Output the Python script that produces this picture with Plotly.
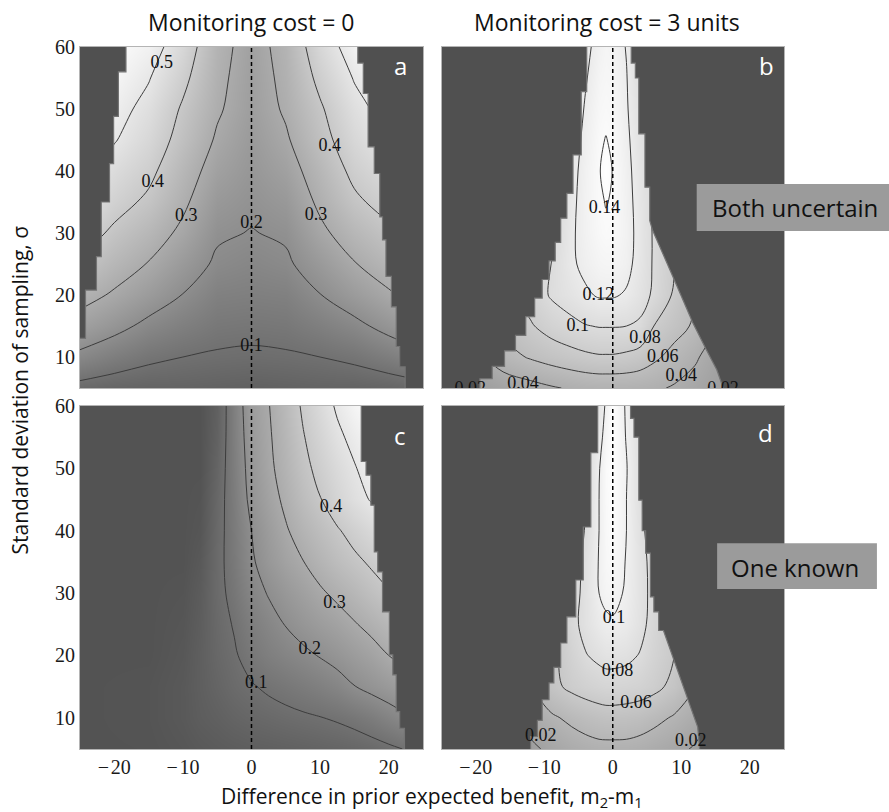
import plotly.graph_objects as go

# ---------------- data ----------------
SIGMA = [5, 10, 15, 20, 25, 30, 35, 40, 45, 50, 55, 60]

# panel a : both uncertain, monitoring cost 0
X_A = [-25, -20, -15, -10, -5, 0, 5, 10, 15, 20, 25]
Z_A = [
    [0.075, 0.06, 0.055, 0.055, 0.05, 0.045, 0.05, 0.055, 0.055, 0.06, 0.075],
    [0.18, 0.145, 0.115, 0.1, 0.092, 0.088, 0.092, 0.1, 0.115, 0.145, 0.18],
    [0.265, 0.225, 0.18, 0.15, 0.125, 0.12, 0.125, 0.15, 0.18, 0.225, 0.265],
    [0.33, 0.29, 0.245, 0.198, 0.155, 0.15, 0.155, 0.198, 0.245, 0.29, 0.33],
    [0.39, 0.34, 0.296, 0.24, 0.188, 0.175, 0.188, 0.24, 0.296, 0.34, 0.39],
    [0.44, 0.385, 0.34, 0.283, 0.21, 0.197, 0.21, 0.283, 0.34, 0.385, 0.44],
    [0.49, 0.43, 0.385, 0.315, 0.237, 0.215, 0.237, 0.315, 0.385, 0.43, 0.49],
    [0.53, 0.465, 0.42, 0.34, 0.265, 0.23, 0.265, 0.34, 0.42, 0.465, 0.53],
    [0.56, 0.505, 0.45, 0.37, 0.29, 0.243, 0.29, 0.37, 0.45, 0.505, 0.56],
    [0.59, 0.53, 0.475, 0.39, 0.31, 0.255, 0.31, 0.39, 0.475, 0.53, 0.59],
    [0.61, 0.555, 0.505, 0.42, 0.32, 0.26, 0.32, 0.42, 0.505, 0.555, 0.61],
    [0.63, 0.575, 0.54, 0.45, 0.33, 0.265, 0.33, 0.45, 0.54, 0.575, 0.63],
]

# panel b : both uncertain, monitoring cost 3
X_N = [-25, -20, -16, -12, -9, -6, -4, -2, -1, 0, 2, 4, 6, 9, 12, 16, 20, 25]
Z_B = [
    [0.01, 0.019, 0.027, 0.033, 0.038, 0.042, 0.044, 0.045, 0.045, 0.045, 0.045, 0.044, 0.043, 0.038, 0.032, 0.02, 0.01, 0.0],
    [0.012, 0.033, 0.052, 0.062, 0.068, 0.073, 0.076, 0.078, 0.078, 0.078, 0.076, 0.072, 0.064, 0.053, 0.043, 0.025, 0.01, 0.0],
    [0.015, 0.045, 0.065, 0.078, 0.088, 0.095, 0.099, 0.101, 0.101, 0.101, 0.1, 0.097, 0.08, 0.068, 0.057, 0.035, 0.015, 0.0],
    [0.02, 0.05, 0.072, 0.088, 0.102, 0.11, 0.117, 0.122, 0.122, 0.122, 0.118, 0.108, 0.097, 0.077, 0.06, 0.035, 0.015, 0.0],
    [0.02, 0.05, 0.07, 0.088, 0.1, 0.117, 0.125, 0.131, 0.132, 0.132, 0.126, 0.112, 0.098, 0.08, 0.06, 0.035, 0.015, 0.0],
    [0.02, 0.045, 0.065, 0.08, 0.095, 0.117, 0.128, 0.136, 0.138, 0.137, 0.128, 0.113, 0.098, 0.08, 0.06, 0.035, 0.015, 0.0],
    [0.02, 0.04, 0.06, 0.075, 0.09, 0.115, 0.129, 0.138, 0.1405, 0.139, 0.127, 0.112, 0.097, 0.08, 0.06, 0.035, 0.015, 0.0],
    [0.02, 0.04, 0.06, 0.075, 0.09, 0.113, 0.128, 0.139, 0.1445, 0.1395, 0.126, 0.11, 0.096, 0.08, 0.06, 0.035, 0.015, 0.0],
    [0.02, 0.04, 0.055, 0.07, 0.085, 0.11, 0.125, 0.138, 0.1405, 0.138, 0.124, 0.108, 0.094, 0.078, 0.058, 0.035, 0.015, 0.0],
    [0.02, 0.035, 0.05, 0.065, 0.08, 0.105, 0.122, 0.135, 0.137, 0.135, 0.122, 0.105, 0.09, 0.075, 0.055, 0.035, 0.015, 0.0],
    [0.02, 0.035, 0.05, 0.06, 0.075, 0.1, 0.118, 0.132, 0.134, 0.133, 0.121, 0.1, 0.085, 0.07, 0.05, 0.03, 0.015, 0.0],
    [0.02, 0.035, 0.045, 0.055, 0.07, 0.095, 0.114, 0.128, 0.132, 0.13, 0.119, 0.1, 0.08, 0.065, 0.05, 0.03, 0.015, 0.0],
]

# panel c : one known, monitoring cost 0
X_C = [-25, -15, -10, -7.5, -5, -2.5, 0, 2.5, 5, 7.5, 10, 12.5, 15, 17.5, 20, 22.5, 25]
Z_C = [
    [0, 0.002, 0.012, 0.02, 0.027, 0.033, 0.038, 0.042, 0.046, 0.05, 0.055, 0.06, 0.066, 0.075, 0.088, 0.103, 0.12],
    [0, 0.005, 0.02, 0.035, 0.045, 0.058, 0.068, 0.076, 0.084, 0.091, 0.098, 0.107, 0.12, 0.14, 0.165, 0.19, 0.215],
    [0, 0.005, 0.02, 0.04, 0.06, 0.08, 0.095, 0.11, 0.123, 0.137, 0.152, 0.17, 0.198, 0.22, 0.24, 0.262, 0.285],
    [0, 0.0, 0.015, 0.04, 0.07, 0.093, 0.125, 0.15, 0.168, 0.185, 0.204, 0.225, 0.248, 0.272, 0.3, 0.325, 0.35],
    [0, 0.0, 0.01, 0.035, 0.075, 0.105, 0.145, 0.175, 0.203, 0.228, 0.25, 0.27, 0.295, 0.32, 0.345, 0.37, 0.395],
    [0, 0.0, 0.005, 0.03, 0.08, 0.12, 0.17, 0.205, 0.235, 0.262, 0.29, 0.315, 0.34, 0.37, 0.395, 0.42, 0.445],
    [0, 0.0, 0.0, 0.02, 0.08, 0.13, 0.19, 0.235, 0.27, 0.298, 0.33, 0.36, 0.385, 0.41, 0.435, 0.46, 0.485],
    [0, 0.0, 0.0, 0.01, 0.075, 0.135, 0.2, 0.25, 0.293, 0.33, 0.362, 0.393, 0.425, 0.455, 0.48, 0.505, 0.53],
    [0, 0.0, 0.0, 0.005, 0.07, 0.14, 0.22, 0.27, 0.315, 0.36, 0.397, 0.44, 0.475, 0.505, 0.535, 0.56, 0.585],
    [0, 0.0, 0.0, 0.0, 0.06, 0.145, 0.23, 0.285, 0.33, 0.38, 0.42, 0.46, 0.495, 0.53, 0.56, 0.585, 0.61],
    [0, 0.0, 0.0, 0.0, 0.05, 0.148, 0.24, 0.291, 0.34, 0.395, 0.44, 0.485, 0.52, 0.555, 0.58, 0.6, 0.62],
    [0, 0.0, 0.0, 0.0, 0.045, 0.15, 0.25, 0.297, 0.35, 0.41, 0.46, 0.51, 0.55, 0.58, 0.6, 0.62, 0.64],
]

# panel d : one known, monitoring cost 3
Z_D = [
    [0, 0, 0.0, 0.016, 0.024, 0.03, 0.033, 0.035, 0.035, 0.035, 0.035, 0.033, 0.03, 0.025, 0.018, 0.005, 0, 0],
    [0, 0, 0.01, 0.028, 0.037, 0.044, 0.048, 0.051, 0.052, 0.052, 0.051, 0.049, 0.045, 0.038, 0.03, 0.012, 0, 0],
    [0, 0, 0.015, 0.038, 0.055, 0.064, 0.068, 0.071, 0.072, 0.072, 0.071, 0.069, 0.065, 0.055, 0.04, 0.018, 0, 0],
    [0, 0, 0.02, 0.04, 0.055, 0.07, 0.079, 0.084, 0.086, 0.086, 0.084, 0.079, 0.071, 0.06, 0.045, 0.02, 0, 0],
    [0, 0, 0.02, 0.04, 0.055, 0.075, 0.085, 0.094, 0.097, 0.098, 0.094, 0.085, 0.074, 0.06, 0.045, 0.02, 0, 0],
    [0, 0, 0.02, 0.035, 0.05, 0.072, 0.085, 0.1, 0.104, 0.105, 0.098, 0.086, 0.075, 0.06, 0.045, 0.02, 0, 0],
    [0, 0, 0.02, 0.035, 0.05, 0.07, 0.084, 0.101, 0.107, 0.109, 0.099, 0.086, 0.074, 0.06, 0.045, 0.02, 0, 0],
    [0, 0, 0.02, 0.035, 0.05, 0.068, 0.081, 0.1, 0.108, 0.112, 0.1, 0.084, 0.072, 0.058, 0.045, 0.02, 0, 0],
    [0, 0, 0.02, 0.035, 0.05, 0.066, 0.079, 0.1, 0.109, 0.113, 0.1, 0.082, 0.07, 0.055, 0.04, 0.02, 0, 0],
    [0, 0, 0.02, 0.035, 0.05, 0.064, 0.077, 0.099, 0.11, 0.114, 0.101, 0.081, 0.068, 0.055, 0.04, 0.02, 0, 0],
    [0, 0, 0.02, 0.035, 0.05, 0.062, 0.075, 0.094, 0.106, 0.114, 0.099, 0.08, 0.066, 0.05, 0.04, 0.02, 0, 0],
    [0, 0, 0.02, 0.035, 0.045, 0.06, 0.074, 0.09, 0.102, 0.114, 0.098, 0.079, 0.065, 0.05, 0.035, 0.02, 0, 0],
]

# boundaries of the region where monitoring is worthwhile
# stair part: band tops in sigma and x of the edge in each band; tail: straight edge points
A_LEFT_SIG = [60, 56, 48.8, 41.2, 35, 26.2, 20.8, 13]
A_LEFT_X = [-18.3, -19.4, -20.1, -20.7, -21.9, -22.6, -24.2]
A_RIGHT_SIG = [60, 57.4, 52.5, 43.9, 39.6, 32.6, 28.9, 23, 18.1, 11.7, 8.4, 5]
A_RIGHT_X = [15.5, 16.3, 17.0, 17.9, 18.7, 19.1, 19.6, 20.4, 21.1, 21.6, 22.4]
B_LEFT_SIG = [60, 52.8, 42.6, 36.4, 32.4, 28.5, 25.5, 22.5, 19.5, 16.5, 13.5, 11, 8.5, 6.5, 5]
B_LEFT_X = [-3.8, -4.6, -5.8, -6.7, -7.6, -8.4, -9.3, -10.3, -11.4, -12.7, -14.2, -15.8, -17.6, -19.4]
B_RIGHT_SIG = [60, 57.4, 55, 46, 37.4, 32]
B_RIGHT_X = [2.7, 3.3, 3.8, 4.7, 5.4]
B_RIGHT_TAIL_SIG = [32, 30.5, 22.9, 15.5, 11.1, 7.9, 5]
B_RIGHT_TAIL_X = [5.4, 5.8, 8.8, 11.7, 13.7, 15.2, 16.6]
C_RIGHT_SIG = [60, 51.1, 48.9, 44.1, 36.6, 33.4, 27.0, 20.1, 16.9, 11.0, 8.3, 5]
C_RIGHT_X = [16.0, 16.7, 17.4, 17.9, 18.4, 19.1, 20.1, 20.6, 21.1, 21.6, 22.3]
D_LEFT_SIG = [60, 52.5, 40.6, 32.1, 26.2, 22, 18.1, 15.6, 12.9, 9.6, 7, 5]
D_LEFT_X = [-2.2, -3.2, -4.3, -5.4, -6.7, -7.6, -8.6, -9.3, -10.3, -11.0, -12.0]
D_RIGHT_SIG = [60, 58, 55, 44.9, 40, 36.4, 29.4, 27, 24]
D_RIGHT_X = [2.6, 3.1, 3.8, 4.3, 4.8, 5.5, 6.0, 6.7]
D_RIGHT_TAIL_SIG = [24, 8.5, 5]
D_RIGHT_TAIL_X = [7.4, 12.4, 12.8]

# contour label positions (x, sigma) and texts
LAB_A_X = [-13.1, -14.4, -9.5, 0.0, 0.0, 11.4, 9.4]
LAB_A_Y = [57.4, 38.2, 32.6, 31.5, 11.7, 43.9, 32.9]
LAB_A_T = ["0.5", "0.4", "0.3", "0.2", "0.1", "0.4", "0.3"]
LAB_B_X = [-1.2, -2.1, -5.1, 4.7, 7.3, 10.0, -13.1, -20.8, 16.1]
LAB_B_Y = [34.0, 20.0, 14.9, 13.0, 10.0, 6.8, 5.6, 4.7, 4.7]
LAB_B_T = ["0.14", "0.12", "0.1", "0.08", "0.06", "0.04", "0.04", "0.02", "0.02"]
LAB_C_X = [11.6, 12.1, 8.5, 0.7]
LAB_C_Y = [43.8, 28.4, 20.9, 15.5]
LAB_C_T = ["0.4", "0.3", "0.2", "0.1"]
LAB_D_X = [0.2, 0.7, 3.4, -10.5, 11.4]
LAB_D_Y = [26.0, 17.4, 12.3, 7.0, 6.2]
LAB_D_T = ["0.1", "0.08", "0.06", "0.02", "0.02"]

X_TICKS = [-20, -10, 0, 10, 20]
X_TICKTEXT = ["\u2212\u200a20", "\u2212\u200a10", "0", "10", "20"]
Y_TICKS = [10, 20, 30, 40, 50, 60]

# ---------------- styling ----------------
DARK = "#505050"
SERIF = "Liberation Serif"
SANS = "Open Sans"
CS_LOW = [[0, "#535353"], [1, "#fafafa"]]
CS_HIGH = [[0, "#8e8e8e"], [1, "#ffffff"]]

fig = go.Figure()

panels = [
    (X_A, Z_A, "x", "y", 0.1, 0.5, 0.1, 0.57, CS_LOW),
    (X_N, Z_B, "x2", "y2", 0.02, 0.14, 0.02, 0.145, CS_HIGH),
    (X_C, Z_C, "x3", "y3", 0.1, 0.5, 0.1, 0.57, CS_LOW),
    (X_N, Z_D, "x4", "y4", 0.02, 0.1, 0.02, 0.115, CS_HIGH),
]

for xs, zs, xa, ya, c0, c1, cs_, zmax, cscale in panels:
    fig.add_trace(go.Contour(
        x=xs, y=SIGMA, z=zs, xaxis=xa, yaxis=ya,
        colorscale=cscale, zmin=0, zmax=zmax, zauto=False, showscale=False,
        contours=dict(start=c0, end=c1 + 1e-9, size=cs_, coloring="heatmap", showlabels=False),
        line=dict(color="#3c3c3c", width=1, smoothing=1),
        hoverinfo="skip",
    ))


def clamp(vals):
    return [61.5 if v >= 60 else (3.5 if v <= 5 else v) for v in vals]


def stair_mask(sig, xs, edge, tail_sig=None, tail_x=None):
    px, py = [edge], [sig[0]]
    for i, xv in enumerate(xs):
        px += [xv, xv]
        py += [sig[i], sig[i + 1]]
    if tail_sig:
        px += list(tail_x)
        py += list(tail_sig)
    px.append(edge)
    py.append(py[-1])
    return px, clamp(py)


masks = [
    (A_LEFT_SIG, A_LEFT_X, -27, "x", "y", None, None),
    (A_RIGHT_SIG, A_RIGHT_X, 27, "x", "y", None, None),
    (B_LEFT_SIG, B_LEFT_X, -27, "x2", "y2", None, None),
    (B_RIGHT_SIG, B_RIGHT_X, 27, "x2", "y2", B_RIGHT_TAIL_SIG, B_RIGHT_TAIL_X),
    (C_RIGHT_SIG, C_RIGHT_X, 27, "x3", "y3", None, None),
    (D_LEFT_SIG, D_LEFT_X, -27, "x4", "y4", None, None),
    (D_RIGHT_SIG, D_RIGHT_X, 27, "x4", "y4", D_RIGHT_TAIL_SIG, D_RIGHT_TAIL_X),
]
for sig, xs, edge, xa, ya, ts, tx in masks:
    mx, my = stair_mask(sig, xs, edge, ts, tx)
    fig.add_trace(go.Scatter(
        x=mx, y=my, xaxis=xa, yaxis=ya, mode="lines", fill="toself",
        fillcolor=DARK, line=dict(color="#747474", width=1.2),
        hoverinfo="skip", showlegend=False,
    ))

# contour labels (clipped at the frame like the original)
for lx, ly, lt, xa, ya in [(LAB_A_X, LAB_A_Y, LAB_A_T, "x", "y"),
                           (LAB_B_X, LAB_B_Y, LAB_B_T, "x2", "y2"),
                           (LAB_C_X, LAB_C_Y, LAB_C_T, "x3", "y3"),
                           (LAB_D_X, LAB_D_Y, LAB_D_T, "x4", "y4")]:
    fig.add_trace(go.Scatter(
        x=lx, y=ly, text=lt, mode="text", xaxis=xa, yaxis=ya, cliponaxis=True,
        textfont=dict(family=SERIF, size=18, color="#111111"), textposition="middle center",
        hoverinfo="skip", showlegend=False,
    ))

# dashed reference line at zero difference
for xa, ya in [("x", "y"), ("x2", "y2"), ("x3", "y3"), ("x4", "y4")]:
    fig.add_shape(type="line", xref=xa, yref=ya + " domain", x0=0, x1=0, y0=0, y1=1,
                  line=dict(color="black", width=1.5, dash="4px,3px"), layer="above")

XL = [0, 0.4872]
XR = [0.5135, 1.0]
YT = [0.5142, 1.0]
YB = [0.0, 0.4886]

axis_common = dict(showgrid=False, zeroline=False, showline=True, mirror=True,
                   linecolor="#b4b4b4", linewidth=1, ticks="")
xcommon = dict(axis_common, range=[-25, 25], tickvals=X_TICKS, ticktext=X_TICKTEXT,
               tickfont=dict(family=SERIF, size=20, color="#1a1a1a"))
ycommon = dict(axis_common, range=[5, 60], tickvals=Y_TICKS,
               tickfont=dict(family=SERIF, size=20, color="#1a1a1a"))

fig.update_layout(
    width=889, height=812,
    margin=dict(l=80, r=105, t=47, b=63),
    paper_bgcolor="white", plot_bgcolor=DARK, showlegend=False,
    xaxis=dict(xcommon, domain=XL, anchor="y", showticklabels=False),
    yaxis=dict(ycommon, domain=YT, anchor="x"),
    xaxis2=dict(xcommon, domain=XR, anchor="y2", showticklabels=False),
    yaxis2=dict(ycommon, domain=YT, anchor="x2", showticklabels=False),
    xaxis3=dict(xcommon, domain=XL, anchor="y3"),
    yaxis3=dict(ycommon, domain=YB, anchor="x3"),
    xaxis4=dict(xcommon, domain=XR, anchor="y4"),
    yaxis4=dict(ycommon, domain=YB, anchor="x4", showticklabels=False),
)

ann = []
col_font = dict(family=SANS, size=23, color="#111111")
axis_font = dict(family=SANS, size=21, color="#111111")
ann.append(dict(text="Monitoring cost = 0", x=0.2443, y=1.0356, xref="paper", yref="paper",
                showarrow=False, font=col_font, xanchor="center", yanchor="middle"))
ann.append(dict(text="Monitoring cost = 3 units", x=0.749, y=1.0356, xref="paper", yref="paper",
                showarrow=False, font=col_font, xanchor="center", yanchor="middle"))
ann.append(dict(text="Difference in prior expected benefit, m<sub>2</sub>-m<sub>1</sub>",
                x=0.5, y=-0.069, xref="paper", yref="paper", showarrow=False,
                font=axis_font, xanchor="center", yanchor="middle"))
ann.append(dict(text="Standard deviation of sampling, \u03c3", x=-0.085, y=0.511,
                xref="paper", yref="paper", showarrow=False, textangle=-90,
                font=axis_font, xanchor="center", yanchor="middle"))

letter_font = dict(family=SANS, size=24, color="white")
for lab, xa, ya, fx, fy in [("a", "x", "y", 0.933, 0.947), ("b", "x2", "y2", 0.95, 0.947),
                            ("c", "x3", "y3", 0.933, 0.915), ("d", "x4", "y4", 0.945, 0.924)]:
    ann.append(dict(text=lab, x=fx, y=fy, xref=xa + " domain", yref=ya + " domain",
                    showarrow=False, font=letter_font, xanchor="center", yanchor="middle"))

# row labels in grey boxes
fig.add_shape(type="rect", xref="paper", yref="paper", x0=0.876, x1=1.16, y0=0.738, y1=0.805,
              fillcolor="#9b9b9b", line=dict(width=0), layer="above")
fig.add_shape(type="rect", xref="paper", yref="paper", x0=0.905, x1=1.132, y0=0.228, y1=0.293,
              fillcolor="#9b9b9b", line=dict(width=0), layer="above")
box_font = dict(family=SANS, size=24, color="#111111")
ann.append(dict(text="Both uncertain", x=1.0156, y=0.772, xref="paper", yref="paper",
                showarrow=False, font=box_font, xanchor="center", yanchor="middle"))
ann.append(dict(text="One known", x=1.0156, y=0.259, xref="paper", yref="paper",
                showarrow=False, font=box_font, xanchor="center", yanchor="middle"))

fig.update_layout(annotations=ann)
fig.write_html("out.html")
